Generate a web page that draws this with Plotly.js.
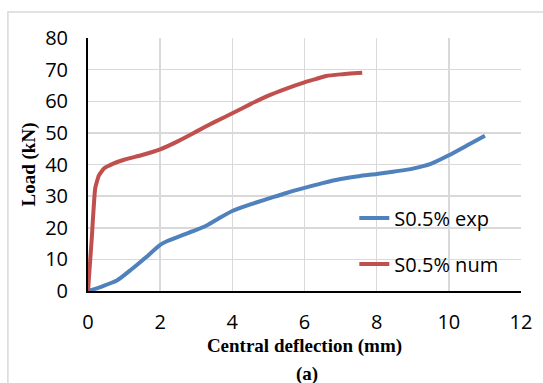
<!DOCTYPE html>
<html>
<head>
<meta charset="utf-8">
<script src="https://cdn.plot.ly/plotly-3.0.1.min.js"></script>
<style>html,body{margin:0;padding:0;background:#fff;}#chart{width:543px;height:383px;}</style>
</head>
<body>
<div id="chart"></div>
<script>
// Data
const expDeflection = [0, 0.4, 0.8, 1.2, 1.6, 2.0, 2.2, 2.6, 3.0, 3.3, 3.6, 4.0, 4.5, 5.0, 5.5, 6.0, 6.5, 7.0, 7.5, 8.0, 8.5, 9.0, 9.5, 10.0, 10.5, 11.0];
const expLoad       = [0, 1.5, 3.3, 6.8, 10.6, 14.6, 15.8, 17.6, 19.3, 20.8, 22.8, 25.3, 27.4, 29.2, 31.0, 32.6, 34.1, 35.4, 36.3, 37.0, 37.8, 38.7, 40.2, 42.9, 46.0, 49.1];
const numDeflection = [0, 0.1, 0.2, 0.3, 0.45, 0.7, 1.0, 1.5, 2.0, 2.5, 3.0, 3.5, 4.0, 4.5, 5.0, 5.5, 6.0, 6.3, 6.6, 7.0, 7.6];
const numLoad       = [0, 16, 32.5, 36.5, 38.8, 40.3, 41.5, 43.0, 44.8, 47.4, 50.4, 53.4, 56.2, 59.1, 61.8, 64.0, 66.0, 67.0, 68.0, 68.5, 69.0];
const xTicks = [0, 2, 4, 6, 8, 10, 12];
const yTicks = [0, 10, 20, 30, 40, 50, 60, 70, 80];
const seriesNames = ['S0.5% exp', 'S0.5% num'];

const traces = [
  {x: expDeflection, y: expLoad, name: seriesNames[0], mode: 'lines', type: 'scatter',
   line: {color: '#4F81BD', width: 4, shape: 'spline', smoothing: 0.6}, legend: 'legend'},
  {x: numDeflection, y: numLoad, name: seriesNames[1], mode: 'lines', type: 'scatter',
   line: {color: '#C0504D', width: 4, shape: 'spline', smoothing: 0.4}, legend: 'legend2'}
];

const tickFont = {family: 'Open Sans, Liberation Sans, sans-serif', size: 20, color: '#000'};
const titleFont = {family: 'Liberation Serif, Times New Roman, serif', size: 19, color: '#000', weight: 'bold'};
const legendFont = {family: 'Open Sans, Liberation Sans, sans-serif', size: 20, color: '#000'};

const layout = {
  width: 543, height: 383,
  margin: {l: 88, r: 22, t: 38, b: 92},
  paper_bgcolor: '#fff', plot_bgcolor: '#fff',
  showlegend: true,
  xaxis: {
    range: [0, 12], tickvals: xTicks, ticktext: xTicks.map(String),
    showgrid: true, gridcolor: '#d9d9d9', gridwidth: 1.5,
    zeroline: false, showline: true, linecolor: '#000', linewidth: 2,
    ticks: 'outside', ticklen: 12, tickcolor: 'rgba(0,0,0,0)',
    tickfont: tickFont,
    title: {text: '<b>Central deflection (mm)</b>', font: titleFont, standoff: 4}
  },
  yaxis: {
    range: [0, 80], tickvals: yTicks, ticktext: yTicks.map(String),
    showgrid: true, gridcolor: '#d9d9d9', gridwidth: 1.5,
    zeroline: false, showline: true, linecolor: '#000', linewidth: 2,
    ticks: 'outside', ticklen: 14, tickcolor: 'rgba(0,0,0,0)',
    tickfont: tickFont,
    title: {text: '<b>Load (kN)</b>', font: titleFont, standoff: 4}
  },
  legend: {x: 0.615, y: 0.289, xanchor: 'left', yanchor: 'middle', bgcolor: 'rgba(0,0,0,0)', font: legendFont},
  legend2: {x: 0.615, y: 0.107, xanchor: 'left', yanchor: 'middle', bgcolor: 'rgba(0,0,0,0)', font: legendFont},
  shapes: [
    {type: 'rect', xref: 'paper', yref: 'paper', x0: -0.185, x1: 1.2, y0: -0.5, y1: 1.103,
     line: {color: '#d9d9d9', width: 1.5}, fillcolor: 'rgba(0,0,0,0)', layer: 'below'}
  ],
  annotations: [
    {text: '<b>(a)</b>', xref: 'paper', yref: 'paper', x: 0.505, y: -0.33, showarrow: false,
     xanchor: 'center', yanchor: 'middle', font: titleFont}
  ]
};

Plotly.newPlot('chart', traces, layout, {staticPlot: true, displayModeBar: false});
</script>
</body>
</html>
